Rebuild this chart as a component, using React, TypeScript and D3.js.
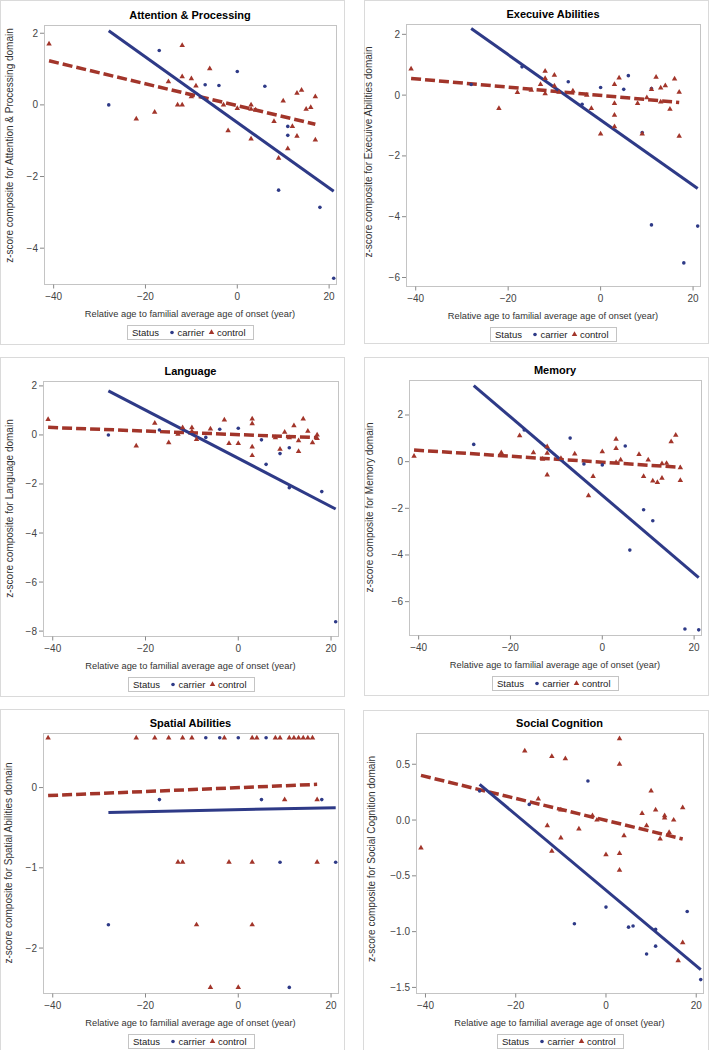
import React from "react";
import * as d3 from "d3";

type Pt = [number, number];

// ---------- data ----------
const xTicks = [-40, -20, 0, 20];
const xDomain: [number, number] = [-42.1, 21.5];

const attnCarrier: Pt[] = [[-28, 0], [-17, 1.52], [-7, 0.56], [-4, 0.54], [0, 0.93], [6, 0.52], [9, -2.38], [11, -0.6], [11, -0.85], [18, -2.86], [21, -4.84]];
const attnControl: Pt[] = [[-41, 1.7], [-22, -0.39], [-18, -0.2], [-15, 0.65], [-13, 0], [-12, 1.66], [-12, 0.79], [-12, 0], [-10, 0.73], [-10, 0.23], [-9, 0.53], [-6, 1.01], [-3, 0], [-2, -0.72], [0, -0.1], [3, 0], [3, -0.12], [3, -0.95], [4, -0.14], [8, -0.46], [9, -1.49], [10, 0.11], [11, -1.22], [12, -0.6], [13, 0.33], [13, -0.87], [14, 0.41], [15, -0.12], [16, -0.07], [17, 0.23], [17, -0.98]];
const attnCarrierFit: Pt[] = [[-28, 2.07], [21, -2.41]];
const attnControlFit: Pt[] = [[-41, 1.23], [17, -0.54]];

const execCarrier: Pt[] = [[-28, 0.35], [-17, 0.93], [-7, 0.44], [-4, -0.3], [0, 0.25], [5, 0.19], [6, 0.64], [9, -1.23], [11, 0.22], [11, -4.27], [18, -5.52], [21, -4.31]];
const execControl: Pt[] = [[-41, 0.86], [-22, -0.44], [-18, 0.09], [-15, 0.16], [-13, 0.35], [-12, 0.79], [-12, 0.55], [-12, 0.05], [-10, 0.66], [-10, 0.3], [-9, 0.1], [-6, 0.14], [-3, 0], [-2, -0.44], [0, -1.28], [3, 0.35], [3, -0.27], [3, -0.66], [3, -1.04], [4, 0.57], [8, -0.27], [9, -1.28], [10, -0.08], [11, 0.19], [12, 0.59], [13, 0.24], [13, -0.22], [14, 0.31], [15, -0.46], [16, 0.53], [17, 0.1], [17, -1.35]];
const execCarrierFit: Pt[] = [[-28, 2.19], [21, -3.07]];
const execControlFit: Pt[] = [[-41, 0.55], [17, -0.24]];

const langCarrier: Pt[] = [[-28, 0], [-17, 0.2], [-7, -0.1], [-4, 0.23], [0, 0.27], [5, -0.2], [6, -1.2], [9, -0.76], [11, -0.52], [11, -2.15], [18, -2.31], [21, -7.62]];
const langControl: Pt[] = [[-41, 0.63], [-22, -0.45], [-18, 0.48], [-15, -0.31], [-13, 0.03], [-12, 0.3], [-10, 0.3], [-10, 0.14], [-9, -0.18], [-6, 0.25], [-3, 0.61], [-2, -0.35], [0, -0.35], [3, 0.65], [3, 0.46], [3, -0.49], [3, -0.84], [8, -0.11], [9, -0.58], [10, 0.11], [11, -0.11], [12, 0.38], [13, -0.23], [13, -0.67], [14, 0.65], [15, 0.15], [16, -0.31], [17, 0], [17, -0.14]];
const langCarrierFit: Pt[] = [[-28, 1.8], [21, -3.02]];
const langControlFit: Pt[] = [[-41, 0.31], [17, -0.11]];

const memCarrier: Pt[] = [[-28, 0.74], [-17, 1.36], [-7, 1.01], [-4, -0.1], [0, -0.14], [5, 0.67], [6, -3.79], [9, -2.06], [11, -2.53], [18, -7.17], [21, -7.21]];
const memControl: Pt[] = [[-41, 0.24], [-22, 0.39], [-18, 1.11], [-15, 0.39], [-13, 0.11], [-12, 0.64], [-12, 0.36], [-12, -0.57], [-9, 0.14], [-6, 0.33], [-3, -1.46], [-2, -0.63], [0, 0.43], [3, 0.96], [3, 0.57], [3, -0.03], [4, 0.07], [8, 0.31], [9, -0.63], [10, 0.07], [11, -0.83], [12, -0.89], [13, -0.09], [13, -0.71], [14, -0.07], [15, 0.86], [16, 1.14], [17, -0.26], [17, -0.8]];
const memCarrierFit: Pt[] = [[-28, 3.26], [21, -4.97]];
const memControlFit: Pt[] = [[-41, 0.5], [17, -0.24]];

const spatCarrier: Pt[] = [[-28, -1.71], [-17, -0.15], [-7, 0.62], [-4, 0.62], [0, 0.62], [5, -0.15], [6, 0.62], [9, -0.93], [11, -2.49], [18, -0.15], [21, -0.93]];
const spatControl: Pt[] = [[-41, 0.62], [-22, 0.62], [-18, 0.62], [-15, 0.62], [-12, 0.62], [-10, 0.62], [-3, 0.62], [3, 0.62], [4, 0.62], [8, 0.62], [9, 0.62], [11, 0.62], [12, 0.62], [13, 0.62], [14, 0.62], [15, 0.62], [16, 0.62], [-13, -0.93], [-12, -0.93], [-2, -0.93], [3, -0.93], [17, -0.93], [10, -0.15], [17, -0.15], [-9, -1.71], [3, -1.71], [-6, -2.49], [0, -2.49]];
const spatCarrierFit: Pt[] = [[-28, -0.31], [21, -0.25]];
const spatControlFit: Pt[] = [[-41, -0.1], [17, 0.04]];

const socCarrier: Pt[] = [[-28, 0.26], [-17, 0.14], [-7, -0.93], [-4, 0.35], [0, -0.78], [5, -0.96], [6, -0.95], [9, -1.2], [11, -0.98], [11, -1.13], [18, -0.82], [21, -1.43]];
const socControl: Pt[] = [[-41, -0.25], [-18, 0.62], [-15, 0.19], [-13, -0.05], [-12, 0.57], [-12, -0.28], [-10, 0.09], [-10, -0.16], [-9, 0.55], [-6, -0.08], [-3, 0.04], [-2, 0], [0, -0.31], [3, 0.73], [3, 0.5], [3, -0.3], [3, -0.45], [4, -0.14], [8, 0.06], [9, -0.05], [10, 0.26], [11, 0.09], [12, -0.17], [13, 0.04], [13, 0.02], [14, -0.11], [15, 0], [16, -1.26], [17, 0.11], [17, -1.1]];
const socCarrierFit: Pt[] = [[-28, 0.32], [21, -1.34]];
const socControlFit: Pt[] = [[-41, 0.4], [17, -0.17]];

const titles = ["Attention & Processing", "Execuive Abilities", "Language", "Memory", "Spatial Abilities", "Social Cognition"];
const domains = ["Attention & Processing", "Execuive Abilities", "Language", "Memory", "Spatial Abilities", "Social Cognition"];
const yTickSets = [[2, 0, -2, -4], [2, 0, -2, -4, -6], [2, 0, -2, -4, -6, -8], [2, 0, -2, -4, -6], [0, -1, -2], [0.5, 0, -0.5, -1, -1.5]];
const yDomains: [number, number][] = [[-5.0, 2.23], [-6.28, 2.34], [-8.2, 2.2], [-7.43, 3.5], [-2.56, 0.68], [-1.55, 0.78]];

const legendTitle = "Status";
const groupNames = ["carrier", "control"];
const xAxisLabel = "Relative age to familial average age of onset (year)";

// ---------- layout / style ----------
const BLUE = "#2E3A87";
const RED = "#A2352A";
const FONT = "'Liberation Sans', Arial, sans-serif";

const layouts = [
  { box: [0.5, 0.5, 344, 344], frame: [44, 25, 336, 284], ylab: 31, ylabDy: -9, fmt: "d" },
  { box: [364.5, 0.5, 344, 343], frame: [406, 24, 700, 286], ylab: 34, ylabDy: -3, fmt: "d" },
  { box: [0.5, 357.5, 344, 339], frame: [43, 381, 338, 636], ylab: 30, ylabDy: 0, fmt: "d" },
  { box: [364.5, 357.5, 344, 338], frame: [409, 380, 701, 635], ylab: 36, ylabDy: 0, fmt: "d" },
  { box: [0.5, 709.5, 344, 360], frame: [43, 733, 338, 993], ylab: 31, ylabDy: 0, fmt: "d" },
  { box: [363.5, 710.5, 345, 360], frame: [416, 733, 703, 993], ylab: 41, ylabDy: -4, fmt: ".1f" },
];

const panelData = [
  { carrier: attnCarrier, control: attnControl, cFit: attnCarrierFit, kFit: attnControlFit },
  { carrier: execCarrier, control: execControl, cFit: execCarrierFit, kFit: execControlFit },
  { carrier: langCarrier, control: langControl, cFit: langCarrierFit, kFit: langControlFit },
  { carrier: memCarrier, control: memControl, cFit: memCarrierFit, kFit: memControlFit },
  { carrier: spatCarrier, control: spatControl, cFit: spatCarrierFit, kFit: spatControlFit },
  { carrier: socCarrier, control: socControl, cFit: socCarrierFit, kFit: socControlFit },
];

const triPath = d3.symbol().type(d3.symbolTriangle).size(13)() as string;
const xFmt = d3.format("d");

function Panel({ i }: { i: number }) {
  const L = layouts[i];
  const D = panelData[i];
  const [fl, ft, fr, fb] = L.frame;
  const x = d3.scaleLinear().domain(xDomain).range([fl, fr]);
  const y = d3.scaleLinear().domain(yDomains[i]).range([fb, ft]);
  const line = d3.line<Pt>().x((d) => x(d[0])).y((d) => y(d[1]));
  const yFmt = L.fmt === "d" ? d3.format("d") : d3.format(".1f");
  const cx = (fl + fr) / 2;
  const cy = (ft + fb) / 2;
  const legW = 126;
  const lx = Math.round(cx - legW / 2);
  const ly = fb + 41;
  return (
    <g>
      <rect x={L.box[0]} y={L.box[1]} width={L.box[2]} height={L.box[3]} fill="#fff" stroke="#DADADA" />
      <text x={cx} y={ft - 6} textAnchor="middle" fontSize={11} fontWeight="bold" fill="#000">{titles[i]}</text>
      <defs>
        <clipPath id={`clip${i}`}>
          <rect x={fl} y={ft} width={fr - fl} height={fb - ft} />
        </clipPath>
      </defs>
      <rect x={fl + 0.5} y={ft + 0.5} width={fr - fl} height={fb - ft} fill="none" stroke="#C4C4C4" />
      {xTicks.map((t) => (
        <g key={t}>
          <line x1={x(t)} x2={x(t)} y1={fb + 0.5} y2={fb + 4.5} stroke="#888" />
          <text x={x(t)} y={fb + 16} textAnchor="middle" fontSize={10} fill="#444">{xFmt(t)}</text>
        </g>
      ))}
      {yTickSets[i].map((t) => (
        <g key={t}>
          <line x1={fl - 4} x2={fl} y1={y(t)} y2={y(t)} stroke="#888" />
          <text x={fl - 6} y={y(t) + 3.5} textAnchor="end" fontSize={10} fill="#444">{yFmt(t)}</text>
        </g>
      ))}
      <text x={cx} y={fb + 33} textAnchor="middle" fontSize={9.3} fill="#333">{xAxisLabel}</text>
      <text transform={`translate(${fl - L.ylab},${cy + L.ylabDy}) rotate(-90)`} textAnchor="middle" fontSize={10} fill="#333">{`z-score composite for ${domains[i]} domain`}</text>
      <g clipPath={`url(#clip${i})`}>
        <path d={line(D.kFit) || ""} fill="none" stroke={RED} strokeWidth={3.5} strokeDasharray="10,4" />
        <path d={line(D.cFit) || ""} fill="none" stroke={BLUE} strokeWidth={3} />
        {D.carrier.map((p, k) => (
          <circle key={`c${k}`} cx={x(p[0])} cy={y(p[1])} r={1.8} fill={BLUE} />
        ))}
        {D.control.map((p, k) => (
          <path key={`t${k}`} d={triPath} transform={`translate(${x(p[0])},${y(p[1])})`} fill={RED} />
        ))}
      </g>
      <rect x={lx + 0.5} y={ly + 0.5} width={legW} height={14} fill="#fff" stroke="#C4C4C4" />
      <text x={lx + 5} y={ly + 11} fontSize={9.5} fill="#222">{legendTitle}</text>
      <circle cx={lx + 45} cy={ly + 7.5} r={1.8} fill={BLUE} />
      <text x={lx + 50.5} y={ly + 11} fontSize={9.5} fill="#222">{groupNames[0]}</text>
      <path d={triPath} transform={`translate(${lx + 84.5},${ly + 7.5})`} fill={RED} />
      <text x={lx + 90} y={ly + 11} fontSize={9.5} fill="#222">{groupNames[1]}</text>
    </g>
  );
}

export default function App() {
  return (
    <svg width={718} height={1050} style={{ position: "absolute", left: 0, top: 0, background: "#fff" }} fontFamily={FONT}>
      <rect x={0} y={0} width={718} height={1050} fill="#fff" />
      {[0, 1, 2, 3, 4, 5].map((i) => (
        <Panel key={i} i={i} />
      ))}
    </svg>
  );
}
